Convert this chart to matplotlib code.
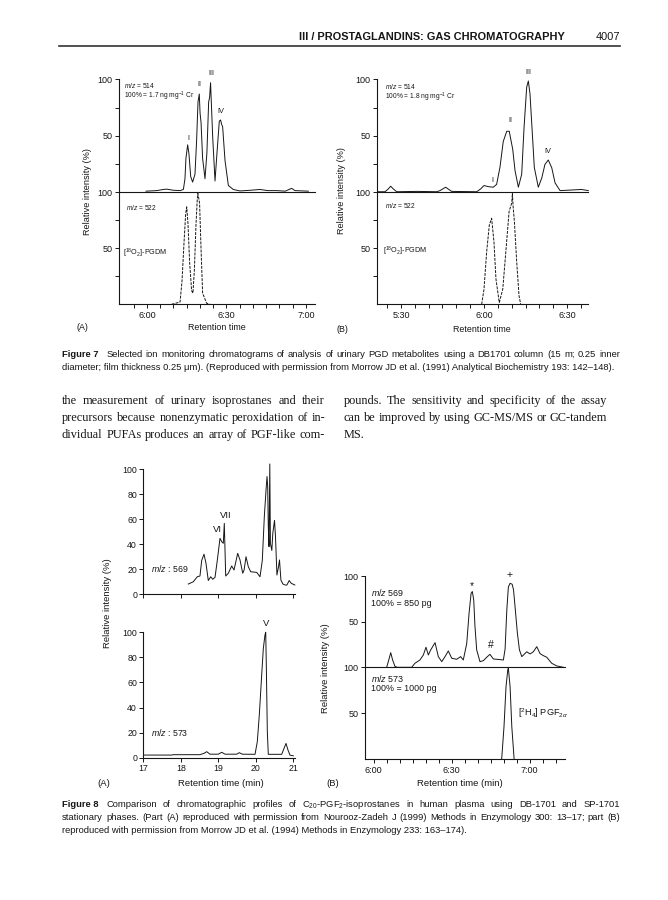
import matplotlib
matplotlib.use('Agg')
import numpy as np
import matplotlib.pyplot as plt

W, H = 668, 900

# ---------------- values ----------------
# Figure 7 (A): retention time in minutes, intensity in %
f7a_t_514 = [5.994, 6.061, 6.103, 6.124, 6.166, 6.208, 6.229, 6.239, 6.245, 6.256, 6.264, 6.275,
             6.287, 6.302, 6.312, 6.321, 6.329, 6.334, 6.340, 6.350, 6.365, 6.377, 6.388, 6.394,
             6.400, 6.413, 6.428, 6.442, 6.455, 6.463, 6.470, 6.476, 6.491, 6.512, 6.543, 6.585,
             6.650, 6.711, 6.760, 6.816, 6.870, 6.910, 6.931, 7.015]
f7a_v_514 = [1.0, 1.5, 2.5, 2.8, 1.8, 1.5, 2.5, 12, 30, 42, 34, 14,
             9, 16, 45, 80, 87, 70, 62, 30, 12, 35, 80, 84,
             97, 50, 10, 38, 63, 64, 60, 58, 28, 6, 2.5, 1.2,
             1.8, 2.5, 1.5, 1.5, 1.0, 3.5, 1.5, 1.0]
f7a_t_522 = [6.155, 6.208, 6.220, 6.233, 6.243, 6.250, 6.258, 6.268, 6.281, 6.289, 6.298, 6.308,
             6.316, 6.320, 6.323, 6.331, 6.340, 6.350, 6.375, 6.396]
f7a_v_522 = [0, 2, 20, 55, 80, 87, 72, 38, 12, 10, 30, 70,
             93, 99, 97, 90, 50, 10, 1, 0]

# Figure 7 (B)
f7b_t_514 = [5.363, 5.404, 5.424, 5.438, 5.454, 5.474, 5.598, 5.715, 5.735, 5.769, 5.805, 5.956,
             5.980, 6.000, 6.026, 6.056, 6.076, 6.096, 6.116, 6.137, 6.152, 6.173, 6.187, 6.207,
             6.227, 6.241, 6.257, 6.267, 6.277, 6.289, 6.303, 6.327, 6.348, 6.367, 6.387, 6.408,
             6.428, 6.458, 6.588, 6.628]
f7b_v_514 = [0.5, 0.5, 3, 5.4, 3, 0.5, 0.8, 0.5, 1.5, 4.5, 0.8, 0.5,
             3, 6, 5, 4.5, 7, 22, 45, 54, 54, 38, 19, 4.5,
             16, 57, 93, 98.5, 87, 57, 22, 4.5, 12.8, 24.7, 28.6, 21.7,
             8.3, 1.5, 2.5, 1.5]
f7b_t_522 = [5.986, 6.000, 6.016, 6.032, 6.046, 6.060, 6.072, 6.092, 6.113, 6.133, 6.151, 6.167,
             6.171, 6.175, 6.183, 6.197, 6.211, 6.221]
f7b_v_522 = [0, 13.5, 46.7, 70.8, 76.8, 55.7, 22.6, 1.5, 13.5, 49.7, 82.8, 90.4,
             99, 88, 73.8, 37.7, 7.5, 0]

# Figure 8 (A)
f8a_t_569 = [18.200, 18.333, 18.440, 18.511, 18.557, 18.619, 18.672, 18.733, 18.797, 18.851, 18.912,
             18.973, 19.045, 19.091, 19.133, 19.160, 19.179, 19.197, 19.267, 19.357, 19.419, 19.517,
             19.579, 19.651, 19.688, 19.739, 19.800, 19.864, 20.024, 20.112, 20.173, 20.227, 20.272,
             20.299, 20.317, 20.333, 20.352, 20.373, 20.389, 20.427, 20.453, 20.499, 20.525, 20.563,
             20.605, 20.632, 20.669, 20.723, 20.784, 20.829, 20.891, 20.944, 21.040]
f8a_v_569 = [8.2, 10, 14, 14.6, 27, 32, 24.7, 11, 14, 12, 13.5,
             27, 44.7, 42, 40.7, 56.6, 35, 14.6, 16.8, 22.6, 19.4, 32.7,
             27.4, 16.8, 19.4, 30, 22, 18, 17.5, 14, 27, 62, 83,
             94, 86, 54, 38, 104, 40.7, 35, 48.7, 59, 46, 15.4,
             22, 27.4, 11.4, 8.2, 7.4, 7.4, 11, 8.8, 7.4]
f8a_t_573 = [17.019, 17.757, 17.800, 18.511, 18.619, 18.691, 18.779, 19.000, 19.091, 19.179, 19.491,
             19.560, 19.640, 19.979, 20.040, 20.093, 20.157, 20.200, 20.245, 20.264, 20.280, 20.307,
             20.333, 20.691, 20.752, 20.805, 20.859, 20.912, 21.000]
f8a_v_573 = [2.1, 2.1, 2.4, 2.4, 3.5, 4.8, 2.8, 2.8, 4.3, 2.8, 2.8,
             4.0, 2.8, 2.7, 12.8, 34, 66, 87, 98, 100, 74, 20.7,
             2.7, 2.7, 7.4, 11.4, 6, 2, 1.5]

# Figure 8 (B)
f8b_t_569 = [6.084, 6.094, 6.110, 6.122, 6.137, 6.152, 6.244, 6.265, 6.297, 6.319, 6.336, 6.351,
             6.366, 6.394, 6.415, 6.437, 6.458, 6.479, 6.501, 6.533, 6.558, 6.575, 6.597, 6.612,
             6.625, 6.633, 6.642, 6.650, 6.661, 6.682, 6.704, 6.725, 6.746, 6.768, 6.789, 6.832,
             6.843, 6.854, 6.864, 6.875, 6.888, 6.897, 6.907, 6.922, 6.935, 6.950, 6.982, 7.003,
             7.024, 7.046, 7.067, 7.088, 7.110, 7.142, 7.174, 7.217]
f8b_v_569 = [0, 6, 16, 8, 1, 0, 0, 4.4, 8, 13.5, 22, 13.5,
             19, 27, 11.7, 6.2, 11.7, 17.9, 9.9, 8.8, 11.7, 8, 26, 59,
             81, 83, 73.7, 44.5, 19, 6.2, 7.3, 11, 14.2, 9.1, 8.8, 8,
             20, 62.8, 88, 92, 91, 85, 66, 37, 19, 11.7, 17, 14.6,
             17, 22.6, 15, 12.8, 11, 4.4, 1.5, 0]
f8b_t_573 = [6.821, 6.836, 6.849, 6.860, 6.864, 6.875, 6.886, 6.901]
f8b_v_573 = [0, 35.5, 79, 97, 99, 79, 35.5, 0]

f7a_xticks, f7a_xlabels = [6.0, 6.5, 7.0], ['6:00', '6:30', '7:00']
f7b_xticks, f7b_xlabels = [5.5, 6.0, 6.5], ['5:30', '6:00', '6:30']
f8a_xticks, f8a_xlabels = [17, 18, 19, 20, 21], ['17', '18', '19', '20', '21']
f8b_xticks, f8b_xlabels = [6.0, 6.5, 7.0], ['6:00', '6:30', '7:00']

body_left = ["the measurement of urinary isoprostanes and their",
             "precursors because nonenzymatic peroxidation of in-",
             "dividual PUFAs produces an array of PGF-like com-"]
body_right = ["pounds. The sensitivity and specificity of the assay",
              "can be improved by using GC-MS/MS or GC-tandem",
              "MS."]
cap7 = ["Selected ion monitoring chromatograms of analysis of urinary PGD metabolites using a DB1701 column (15 m; 0.25 inner",
        "diameter; film thickness 0.25 \u03bcm). (Reproduced with permission from Morrow JD et al. (1991) Analytical Biochemistry 193: 142\u2013148)."]
cap8 = ["Comparison of chromatographic profiles of C$_{20}$-PGF$_{2}$-isoprostanes in human plasma using DB-1701 and SP-1701",
        "stationary phases. (Part (A) reproduced with permission from Nourooz-Zadeh J (1999) Methods in Enzymology 300: 13\u201317; part (B)",
        "reproduced with permission from Morrow JD et al. (1994) Methods in Enzymology 233: 163\u2013174)."]

# ---------------- page ----------------
plt.rcParams['font.family'] = ['Liberation Sans', 'DejaVu Sans']
plt.rcParams['mathtext.fontset'] = 'custom'
plt.rcParams['mathtext.rm'] = 'Liberation Sans'
plt.rcParams['mathtext.it'] = 'Liberation Sans:italic'
plt.rcParams['mathtext.bf'] = 'Liberation Sans:bold'
INK = '#161616'

fig = plt.figure(figsize=(W / 100, H / 100), dpi=100)
r = fig.canvas.get_renderer()


def box(x0, y0, x1, y1):
    return [x0 / W, 1 - y1 / H, (x1 - x0) / W, (y1 - y0) / H]


def put(x, y, s, **kw):
    kw.setdefault('color', INK)
    return fig.text(x / W, 1 - y / H, s, **kw)


def width(s, **kw):
    t = put(0, 0, s, **kw)
    w = t.get_window_extent(r).width
    t.remove()
    return w


def justify(line, x0, x1, y, **kw):
    words = line.split(' ')
    ts = [put(0, y, w, va='baseline', **kw) for w in words]
    ws = [t.get_window_extent(r).width for t in ts]
    gap = (x1 - x0 - sum(ws)) / max(len(words) - 1, 1)
    x = x0
    for t, w in zip(ts, ws):
        t.set_x(x / W)
        x += w + gap


def frame(ax, xlim, bottom=True):
    ax.set_xlim(*xlim)
    ax.set_ylim(0, 100)
    ax.patch.set_alpha(0)
    for s in ['top', 'right']:
        ax.spines[s].set_visible(False)
    for s in ['left', 'bottom']:
        ax.spines[s].set_linewidth(0.8)
        ax.spines[s].set_color(INK)
    ax.tick_params(which='both', direction='out', width=0.7, colors=INK, labelsize=6.5, pad=1.5)
    ax.tick_params(which='major', length=3)
    ax.tick_params(which='minor', length=3)
    if not bottom:
        ax.tick_params(axis='x', which='both', bottom=False, labelbottom=False)


# header
hfs = 7.6 * 263 / width("III / PROSTAGLANDINS: GAS CHROMATOGRAPHY", fontsize=7.6, fontweight='bold')
put(565, 40, "III / PROSTAGLANDINS: GAS CHROMATOGRAPHY", fontsize=hfs, fontweight='bold', ha='right', va='baseline')
put(620, 40, "4007", fontsize=hfs, ha='right', va='baseline')
fig.add_artist(plt.Line2D([59 / W, 620 / W], [1 - 46 / H, 1 - 46 / H], color='#333333', lw=1.2))

# ---------------- Figure 7 ----------------
minor7a = np.arange(5 + 55 / 60, 7.01, 1 / 12)
minor7b = np.arange(5 + 25 / 60, 6.59, 1 / 12)
for (x0, x1, xlim, t1, v1, t2, v2, xt, xl, minor) in [
        (119, 315, (5.824, 7.057), f7a_t_514, f7a_v_514, f7a_t_522, f7a_v_522, f7a_xticks, f7a_xlabels, minor7a),
        (376.7, 588.3, (5.354, 6.628), f7b_t_514, f7b_v_514, f7b_t_522, f7b_v_522, f7b_xticks, f7b_xlabels, minor7b)]:
    top = fig.add_axes(box(x0, 79.3, x1, 192.3))
    bot = fig.add_axes(box(x0, 192.3, x1, 304.3))
    frame(top, xlim, bottom=False)
    frame(bot, xlim)
    for ax in (top, bot):
        ax.set_yticks([50, 100])
        ax.set_yticks([25, 75], minor=True)
    bot.set_xticks(xt)
    bot.set_xticklabels(xl)
    bot.set_xticks(minor, minor=True)
    top.plot(t1, v1, color=INK, lw=0.7, clip_on=False)
    bot.plot(t2, v2, color=INK, lw=0.7, ls=(0, (3, 1.2)), clip_on=False)

# labels of figure 7 (A)
sfs = 4.8
put(124, 85.5, r"$m/z$ = 514", fontsize=sfs, va='center')
put(124, 96, r"100% = 1.7 ng mg$^{-1}$ Cr", fontsize=sfs, va='center')
put(126, 207, r"$m/z$ = 522", fontsize=sfs, va='center')
put(123, 253, r"[$^{18}$O$_{2}$]-PGDM", fontsize=sfs + 0.4, va='center')
for s, x, y in [('I', 188, 138), ('II', 199.5, 84), ('III', 211, 73.5), ('IV', 221, 111.5)]:
    put(x, y, s, fontsize=5.3, ha='center', va='center')
put(87, 192, "Relative intensity (%)", fontsize=6.6, rotation=90, ha='center', va='center')
put(217, 327, "Retention time", fontsize=6.4, ha='center', va='center')
put(82, 327, "(A)", fontsize=6.4, ha='center', va='center')

# labels of figure 7 (B)
put(385, 86.5, r"$m/z$ = 514", fontsize=sfs, va='center')
put(385, 97, r"100% = 1.8 ng mg$^{-1}$ Cr", fontsize=sfs, va='center')
put(385, 205, r"$m/z$ = 522", fontsize=sfs, va='center')
put(383, 251, r"[$^{18}$O$_{2}$]-PGDM", fontsize=sfs + 0.4, va='center')
for s, x, y in [('I', 492, 180), ('II', 510, 121), ('III', 528, 73), ('IV', 548, 151.5)]:
    put(x, y, s, fontsize=5.3, ha='center', va='center')
put(341, 191, "Relative intensity (%)", fontsize=6.6, rotation=90, ha='center', va='center')
put(482, 329, "Retention time", fontsize=6.4, ha='center', va='center')
put(342, 329, "(B)", fontsize=6.4, ha='center', va='center')

# caption 7
cfs = 6.2 * 556 / width(cap7[1], fontsize=6.2)
fig7lab = put(62, 357, "Figure 7", fontsize=cfs, fontweight='bold', va='baseline')
lx = 62 + fig7lab.get_window_extent(r).width + 8
justify(cap7[0], lx, 620, 357, fontsize=cfs)
put(62, 370, cap7[1], fontsize=cfs, va='baseline')

# body text
serif = ['Liberation Serif', 'DejaVu Serif']
nat = max(width(l, fontsize=10, family=serif) for l in body_left + body_right[:2])
bfs = 10 * 263 / nat
for i, l in enumerate(body_left):
    justify(l, 62, 325, 404 + 17 * i, fontsize=bfs, family=serif)
for i, l in enumerate(body_right[:2]):
    justify(l, 344, 607, 404 + 17 * i, fontsize=bfs, family=serif)
put(344, 404 + 34, body_right[2], fontsize=bfs, family=serif, va='baseline')

# ---------------- Figure 8 (A) ----------------
a8t = fig.add_axes(box(143.3, 469, 295, 594.3))
a8b = fig.add_axes(box(143.3, 632.3, 295, 757.7))
for ax in (a8t, a8b):
    frame(ax, (17, 21.045))
    ax.set_yticks([0, 20, 40, 60, 80, 100])
    ax.set_xticks(f8a_xticks)
    ax.tick_params(labelsize=6.3)
a8t.set_xticklabels([])
a8b.set_xticklabels(f8a_xlabels)
a8t.plot(f8a_t_569, f8a_v_569, color=INK, lw=0.7, clip_on=False)
a8b.plot(f8a_t_573, f8a_v_573, color=INK, lw=0.7, clip_on=False)
put(151, 569, r"$m/z$ : 569", fontsize=6.3, va='center')
put(151, 733, r"$m/z$ : 573", fontsize=6.3, va='center')
put(217, 529, "VI", fontsize=6.8, ha='center', va='center')
put(226, 515, "VII", fontsize=6.8, ha='center', va='center')
put(265.7, 624, "V", fontsize=6.8, ha='center', va='center')
put(107, 603, "Relative intensity (%)", fontsize=6.8, rotation=90, ha='center', va='center')
put(221, 784, "Retention time (min)", fontsize=6.8, ha='center', va='center')
put(104, 784, "(A)", fontsize=6.8, ha='center', va='center')

# ---------------- Figure 8 (B) ----------------
b8t = fig.add_axes(box(365, 576, 565, 667.3))
b8b = fig.add_axes(box(365, 667.3, 565, 759.3))
frame(b8t, (5.945, 7.227), bottom=False)
frame(b8b, (5.945, 7.227))
for ax in (b8t, b8b):
    ax.set_yticks([50, 100])
b8b.set_xticks(f8b_xticks)
b8b.set_xticklabels(f8b_xlabels)
b8b.set_xticks(np.arange(6.0, 7.2, 1 / 12), minor=True)
b8t.plot(f8b_t_569, f8b_v_569, color=INK, lw=0.7, clip_on=False)
b8b.plot(f8b_t_573, f8b_v_573, color=INK, lw=0.7, clip_on=False)
put(371, 593, r"$m/z$ 569", fontsize=6.4, va='center')
put(371, 603.5, "100% = 850 pg", fontsize=6.4, va='center')
put(371, 678, r"$m/z$ 573", fontsize=6.4, va='center')
put(371, 688.5, "100% = 1000 pg", fontsize=6.4, va='center')
put(518, 713, r"[$^{2}$H$_{4}$] PGF$_{2\alpha}$", fontsize=6.6, va='center')
put(471.7, 586, "*", fontsize=7.5, ha='center', va='center')
put(490.7, 645, "#", fontsize=7.5, ha='center', va='center')
put(509.3, 575, "+", fontsize=7.5, ha='center', va='center')
put(325, 668, "Relative intensity (%)", fontsize=6.8, rotation=90, ha='center', va='center')
put(460, 783, "Retention time (min)", fontsize=6.8, ha='center', va='center')
put(333, 784, "(B)", fontsize=6.8, ha='center', va='center')

# caption 8
fig8lab = put(62, 807, "Figure 8", fontsize=cfs, fontweight='bold', va='baseline')
lx = 62 + fig8lab.get_window_extent(r).width + 8
justify(cap8[0], lx, 620, 807, fontsize=cfs)
justify(cap8[1], 62, 620, 820, fontsize=cfs)
put(62, 833, cap8[2], fontsize=cfs, va='baseline')

fig.savefig('out.png', dpi=100)
